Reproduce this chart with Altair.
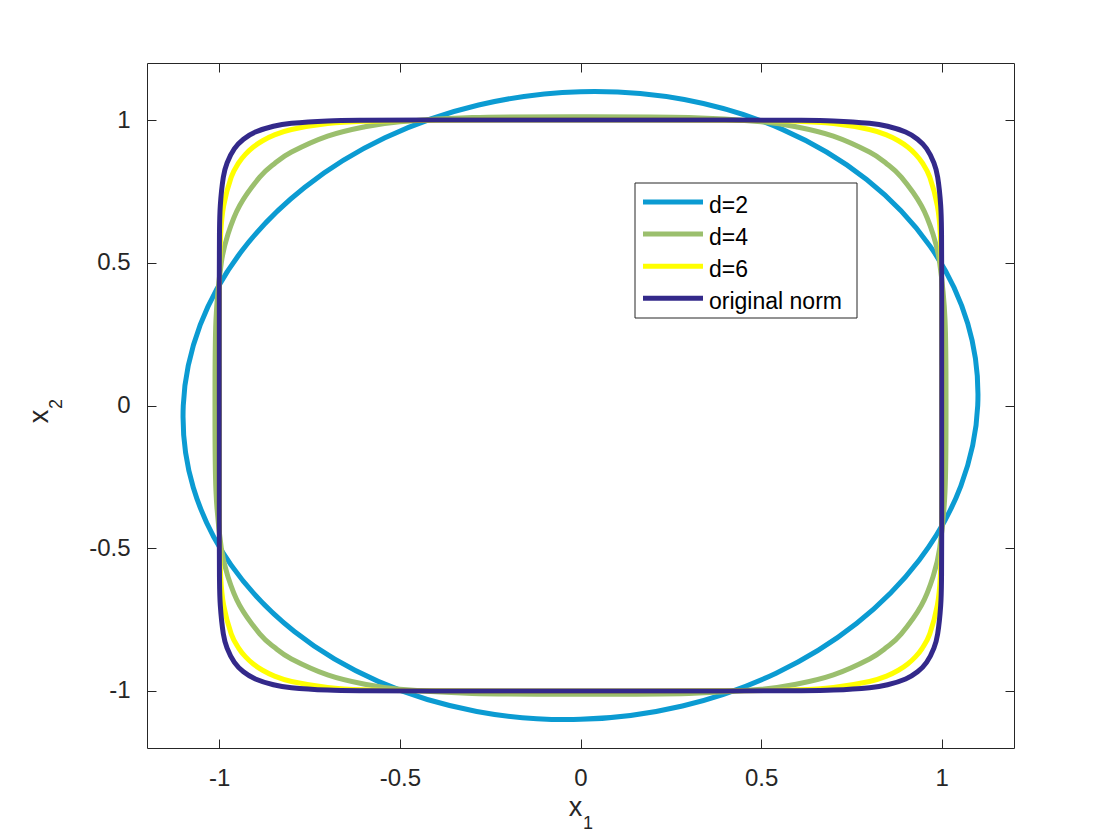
import altair as alt
import pandas as pd

# ---------------- data ----------------
SERIES = ["d=2", "d=4", "d=6", "original norm"]
COLORS = ["#0b9bd2", "#9bbf6d", "#ffff00", "#33298a"]
TICKS = [-1, -0.5, 0, 0.5, 1]

# d=2 (tilted ellipse)
D2_X = [1.0996, 1.0719, 0.9675, 0.7920, 0.5586, 0.2872, 0.0, -0.2821, -0.5414, -0.7639, -0.9378, -1.0527,
        -1.0996, -1.0719, -0.9675, -0.7920, -0.5586, -0.2872, 0.0, 0.2821, 0.5414, 0.7639, 0.9378, 1.0527]
D2_Y = [0.0, 0.2872, 0.5586, 0.7920, 0.9675, 1.0719, 1.0996, 1.0527, 0.9378, 0.7639, 0.5414, 0.2821,
        0.0, -0.2872, -0.5586, -0.7920, -0.9675, -1.0719, -1.0996, -1.0527, -0.9378, -0.7639, -0.5414, -0.2821]

# d=4
D4_X = [1.0118, 1.0091, 0.9943, 0.9759, 0.9438, 0.888, 0.8473, 0.8, 0.7, 0.6, 0.5, 0.3,
        0.0, -0.3, -0.5, -0.6, -0.7, -0.8, -0.8473, -0.888, -0.9438, -0.9759, -0.9943, -1.0091,
        -1.0118, -1.0091, -0.9943, -0.9759, -0.9438, -0.888, -0.8473, -0.8, -0.7, -0.6, -0.5, -0.3,
        0.0, 0.3, 0.5, 0.6, 0.7, 0.8, 0.8473, 0.888, 0.9438, 0.9759, 0.9943, 1.0091]
D4_Y = [0.0, 0.3, 0.5, 0.6, 0.7, 0.8, 0.8473, 0.888, 0.9438, 0.9759, 0.9943, 1.0091,
        1.0118, 1.0091, 0.9943, 0.9759, 0.9438, 0.888, 0.8473, 0.8, 0.7, 0.6, 0.5, 0.3,
        0.0, -0.3, -0.5, -0.6, -0.7, -0.8, -0.8473, -0.888, -0.9438, -0.9759, -0.9943, -1.0091,
        -1.0118, -1.0091, -0.9943, -0.9759, -0.9438, -0.888, -0.8473, -0.8, -0.7, -0.6, -0.5, -0.3]

# d=6
D6_X = [1.0, 0.9998, 0.996, 0.9878, 0.9669, 0.9463, 0.9277, 0.9057, 0.88, 0.85, 0.8, 0.7, 0.6, 0.4,
        0.0, -0.4, -0.6, -0.7, -0.8, -0.85, -0.88, -0.9057, -0.9277, -0.9463, -0.9669, -0.9878, -0.996, -0.9998,
        -1.0, -0.9998, -0.996, -0.9878, -0.9669, -0.9463, -0.9277, -0.9057, -0.88, -0.85, -0.8, -0.7, -0.6, -0.4,
        0.0, 0.4, 0.6, 0.7, 0.8, 0.85, 0.88, 0.9057, 0.9277, 0.9463, 0.9669, 0.9878, 0.996, 0.9998]
D6_Y = [0.0, 0.4, 0.6, 0.7, 0.8, 0.85, 0.88, 0.9057, 0.9277, 0.9463, 0.9669, 0.9878, 0.996, 0.9998,
        1.0, 0.9998, 0.996, 0.9878, 0.9669, 0.9463, 0.9277, 0.9057, 0.88, 0.85, 0.8, 0.7, 0.6, 0.4,
        0.0, -0.4, -0.6, -0.7, -0.8, -0.85, -0.88, -0.9057, -0.9277, -0.9463, -0.9669, -0.9878, -0.996, -0.9998,
        -1.0, -0.9998, -0.996, -0.9878, -0.9669, -0.9463, -0.9277, -0.9057, -0.88, -0.85, -0.8, -0.7, -0.6, -0.4]

# original norm
ON_X = [1.0, 1.0, 0.9994, 0.9971, 0.9887, 0.9783, 0.958, 0.933, 0.9, 0.85, 0.8, 0.7, 0.6, 0.4,
        0.0, -0.4, -0.6, -0.7, -0.8, -0.85, -0.9, -0.933, -0.958, -0.9783, -0.9887, -0.9971, -0.9994, -1.0,
        -1.0, -1.0, -0.9994, -0.9971, -0.9887, -0.9783, -0.958, -0.933, -0.9, -0.85, -0.8, -0.7, -0.6, -0.4,
        0.0, 0.4, 0.6, 0.7, 0.8, 0.85, 0.9, 0.933, 0.958, 0.9783, 0.9887, 0.9971, 0.9994, 1.0]
ON_Y = [0.0, 0.4, 0.6, 0.7, 0.8, 0.85, 0.9, 0.933, 0.958, 0.9783, 0.9887, 0.9971, 0.9994, 1.0,
        1.0, 1.0, 0.9994, 0.9971, 0.9887, 0.9783, 0.958, 0.933, 0.9, 0.85, 0.8, 0.7, 0.6, 0.4,
        0.0, -0.4, -0.6, -0.7, -0.8, -0.85, -0.9, -0.933, -0.958, -0.9783, -0.9887, -0.9971, -0.9994, -1.0,
        -1.0, -1.0, -0.9994, -0.9971, -0.9887, -0.9783, -0.958, -0.933, -0.9, -0.85, -0.8, -0.7, -0.6, -0.4]

CURVES = [(D2_X, D2_Y), (D4_X, D4_Y), (D6_X, D6_Y), (ON_X, ON_Y)]

FONT = "Liberation Sans"
INK = "#262626"


def frame(name, xs, ys):
    return pd.DataFrame({"x1": xs, "x2": ys, "series": name, "k": list(range(len(xs)))})


xscale = alt.Scale(domain=[-1.2, 1.2], nice=False, zero=False)
yscale = alt.Scale(domain=[-1.2, 1.2], nice=False, zero=False)

common_axis = dict(values=TICKS, offset=-9, tickSize=9, domain=False, grid=False, title=None,
                   tickColor=INK, tickWidth=1, labelColor=INK, labelFont=FONT, labelFontSize=24,
                   labelExpr="datum.value + ''")

layers = []
for i, (name, (xs, ys), col) in enumerate(zip(SERIES, CURVES, COLORS)):
    if i == 0:
        xax = alt.Axis(orient="bottom", labelPadding=18, **common_axis)
        yax = alt.Axis(orient="left", labelPadding=17, **common_axis)
    else:
        xax = None
        yax = None
    layers.append(
        alt.Chart(frame(name, xs, ys)).mark_line(
            interpolate="cardinal-closed", strokeWidth=5, color=col, clip=True
        ).encode(
            x=alt.X("x1:Q", scale=xscale, axis=xax),
            y=alt.Y("x2:Q", scale=yscale, axis=yax),
            order="k:Q",
        )
    )

# mirrored inward ticks on top and right
mirror = alt.Chart(frame("m", ON_X, ON_Y)).mark_line(opacity=0).encode(
    x=alt.X("x1:Q", scale=xscale,
            axis=alt.Axis(orient="top", labels=False, **common_axis)),
    y=alt.Y("x2:Q", scale=yscale,
            axis=alt.Axis(orient="right", labels=False, **common_axis)),
    order="k:Q",
)
layers.append(mirror)

# axis titles with subscripts
one = pd.DataFrame({"t": ["x"]})
layers.append(alt.Chart(one).mark_text(font=FONT, fontSize=27, align="center", baseline="alphabetic",
                                       color=INK).encode(text="t:N", x=alt.value(428.5), y=alt.value(753)))
layers.append(alt.Chart(pd.DataFrame({"t": ["1"]})).mark_text(font=FONT, fontSize=18, align="center",
                                                              baseline="alphabetic", color=INK)
              .encode(text="t:N", x=alt.value(441), y=alt.value(766)))
layers.append(alt.Chart(one).mark_text(font=FONT, fontSize=27, align="center", baseline="alphabetic",
                                       angle=270, color=INK)
              .encode(text="t:N", x=alt.value(-99), y=alt.value(353.5)))
layers.append(alt.Chart(pd.DataFrame({"t": ["2"]})).mark_text(font=FONT, fontSize=18, align="center",
                                                              baseline="alphabetic", angle=270, color=INK)
              .encode(text="t:N", x=alt.value(-85), y=alt.value(341)))

# legend box
layers.append(alt.Chart(one).mark_rect(fill="white", stroke=INK, strokeWidth=1).encode(
    x=alt.value(488), x2=alt.value(710), y=alt.value(120), y2=alt.value(255)))
for i, (name, col) in enumerate(zip(SERIES, COLORS)):
    ly = 139 + 32.1 * i
    d = pd.DataFrame({"label": [name]})
    layers.append(alt.Chart(d).mark_rule(strokeWidth=5, color=col).encode(
        x=alt.value(496), x2=alt.value(556), y=alt.value(ly)))
    layers.append(alt.Chart(d).mark_text(font=FONT, fontSize=23, align="left", baseline="alphabetic",
                                         color="black").encode(
        text="label:N", x=alt.value(562), y=alt.value(ly + 10.5)))

chart = alt.layer(*layers).resolve_axis(x="independent", y="independent").properties(
    width=867, height=685,
    background="white",
    padding={"left": 139, "top": 55, "right": 90, "bottom": 88},
    autosize=alt.AutoSizeParams(type="none"),
).configure_view(stroke=INK, strokeWidth=1)

chart.save("out.html", embed_options={"renderer": "svg", "actions": False})
